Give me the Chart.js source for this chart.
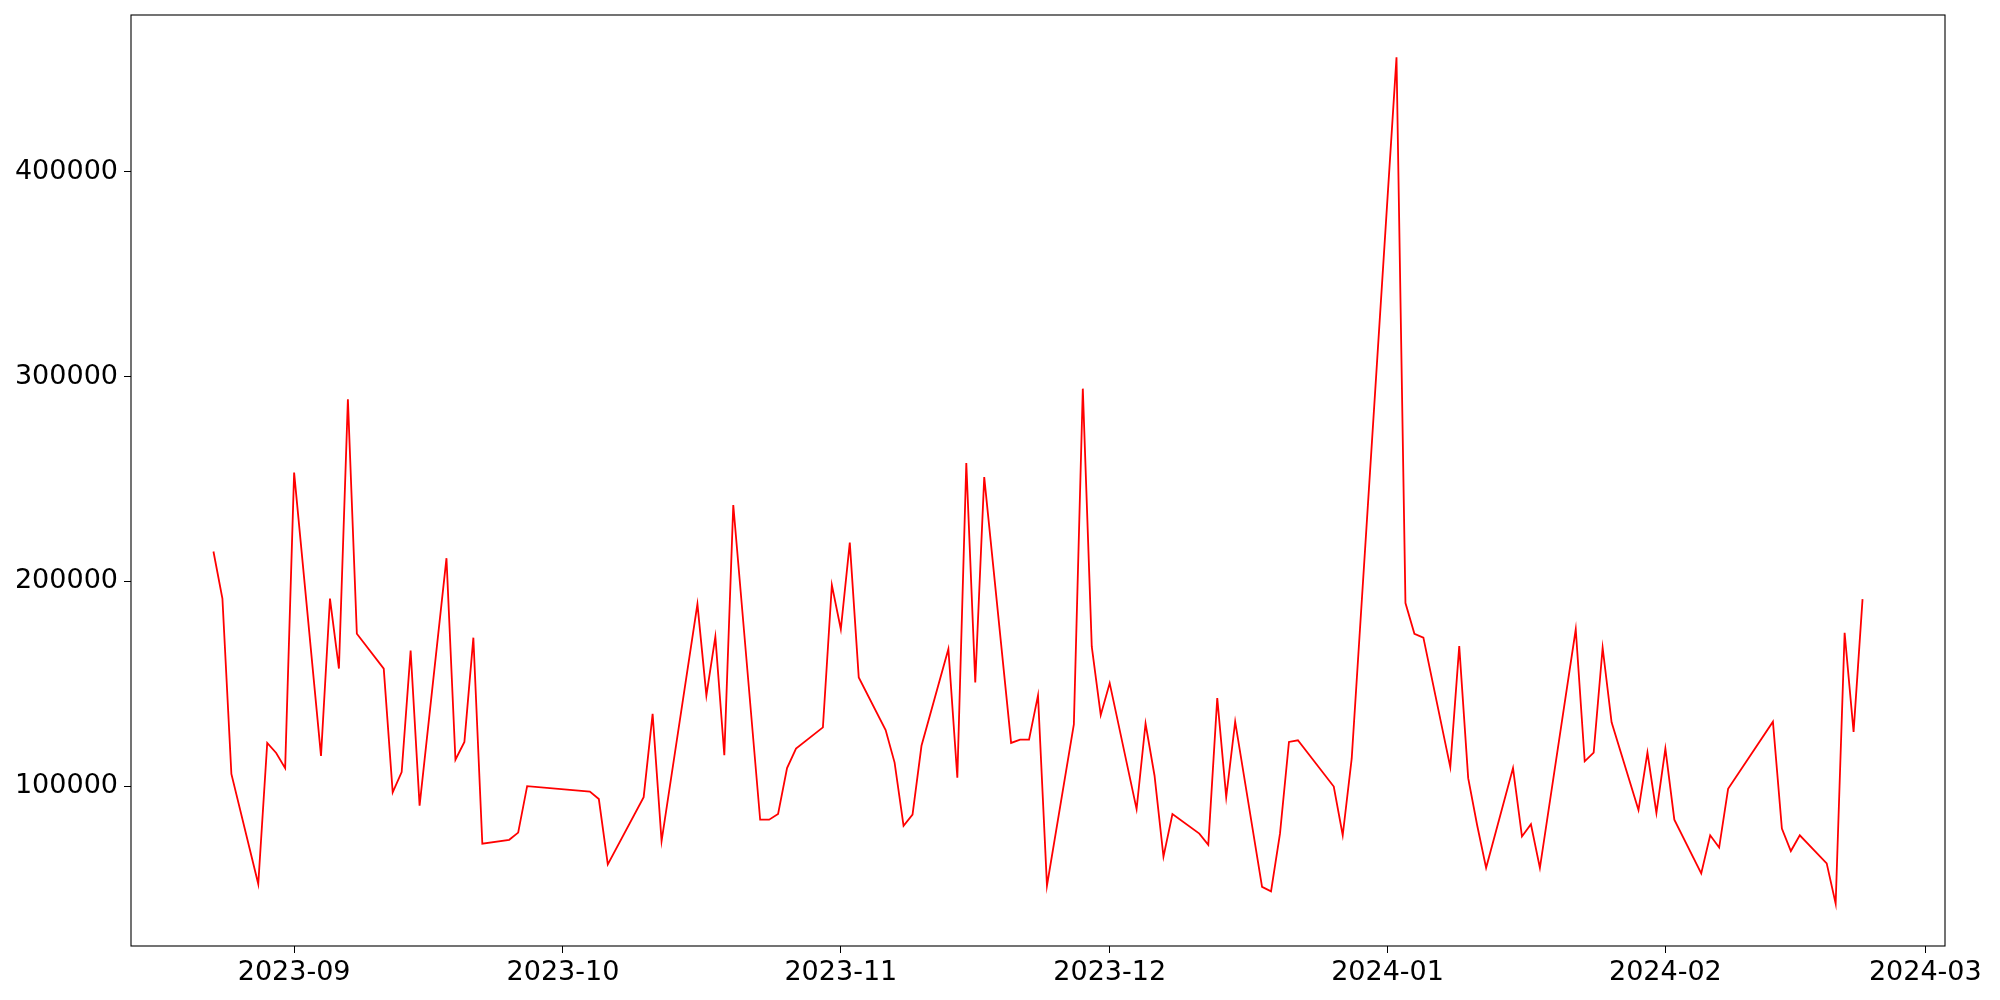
<!DOCTYPE html>
<html>
<head>
<meta charset="utf-8">
<script src="https://cdn.jsdelivr.net/npm/chart.js@4.4.1/dist/chart.umd.min.js"></script>
<style>
  html, body { margin: 0; padding: 0; background: #fff; }
  #chart { display: block; }
</style>
</head>
<body>
<canvas id="chart" width="2000" height="1000"></canvas>
<script>
// fechas (días hábiles) y valores
const dates = [
  '2023-08-23','2023-08-24','2023-08-25','2023-08-28','2023-08-29','2023-08-30','2023-08-31','2023-09-01',
  '2023-09-04','2023-09-05','2023-09-06','2023-09-07','2023-09-08','2023-09-11','2023-09-12','2023-09-13',
  '2023-09-14','2023-09-15','2023-09-18','2023-09-19','2023-09-20','2023-09-21','2023-09-22','2023-09-25',
  '2023-09-26','2023-09-27','2023-10-04','2023-10-05','2023-10-06','2023-10-10','2023-10-11','2023-10-12',
  '2023-10-16','2023-10-17','2023-10-18','2023-10-19','2023-10-20','2023-10-23','2023-10-24','2023-10-25',
  '2023-10-26','2023-10-27','2023-10-30','2023-10-31','2023-11-01','2023-11-02','2023-11-03','2023-11-06',
  '2023-11-07','2023-11-08','2023-11-09','2023-11-10','2023-11-13','2023-11-14','2023-11-15','2023-11-16',
  '2023-11-17','2023-11-20','2023-11-21','2023-11-22','2023-11-23','2023-11-24','2023-11-27','2023-11-28',
  '2023-11-29','2023-11-30','2023-12-01','2023-12-04','2023-12-05','2023-12-06','2023-12-07','2023-12-08',
  '2023-12-11','2023-12-12','2023-12-13','2023-12-14','2023-12-15','2023-12-18','2023-12-19','2023-12-20',
  '2023-12-21','2023-12-22','2023-12-26','2023-12-27','2023-12-28','2024-01-02','2024-01-03','2024-01-04',
  '2024-01-05','2024-01-08','2024-01-09','2024-01-10','2024-01-11','2024-01-12','2024-01-15','2024-01-16',
  '2024-01-17','2024-01-18','2024-01-22','2024-01-23','2024-01-24','2024-01-25','2024-01-26','2024-01-29',
  '2024-01-30','2024-01-31','2024-02-01','2024-02-02','2024-02-05','2024-02-06','2024-02-07','2024-02-08',
  '2024-02-13','2024-02-14','2024-02-15','2024-02-16','2024-02-19','2024-02-20','2024-02-21','2024-02-22',
  '2024-02-23'
];

const values = [
  214600, 191600, 106000, 52200, 121100, 116200, 108800, 253100,
  114800, 191600, 157400, 288900, 174400, 157400, 97000, 106900,
  166200, 90500, 211300, 112900, 121600, 172500, 71900, 73800,
  77300, 100000, 97300, 93700, 61800, 94600, 135300, 73200,
  188900, 144300, 173000, 115100, 237300, 83600, 83600, 86400,
  108800, 118300, 128700, 198200, 176600, 218900, 153100, 127400,
  111500, 80600, 86100, 119700, 167000, 104100, 257800, 150600,
  250900, 121100, 122700, 122700, 144300, 51400, 130100, 294100,
  168100, 134700, 150300, 88800, 130600, 105200, 65600, 86400,
  76800, 71300, 143000, 94600, 131500, 50800, 48600, 76800,
  121600, 122400, 99800, 76000, 113400, 455900, 189400, 174400,
  172500, 109300, 168400, 103900, 80900, 60100, 108800, 75400,
  81400, 60100, 176600, 112100, 116400, 167600, 131200, 88300,
  116400, 86900, 118300, 83600, 57400, 76000, 70000, 98700,
  131500, 79300, 68300, 76000, 62300, 42600, 174900, 126500,
  191300
];

// marcas de los ejes
const xTickLabels = ['2023-09', '2023-10', '2023-11', '2023-12', '2024-01', '2024-02', '2024-03'];
const yTicks = [100000, 200000, 300000, 400000];

const toMs = s => Date.parse(s + 'T00:00:00Z');
const points = dates.map((d, i) => ({ x: toMs(d), y: values[i] }));

// margen del 5% como en matplotlib
const xMinData = toMs(dates[0]);
const xMaxData = toMs(dates[dates.length - 1]);
const xPad = (xMaxData - xMinData) * 0.05;
const yMinData = Math.min(...values);
const yMaxData = Math.max(...values);
const yPad = (yMaxData - yMinData) * 0.05;

const tickFont = { family: 'DejaVu Sans', size: 27 };

// marco completo alrededor del área del gráfico
const framePlugin = {
    id: 'frame',
    afterDraw(chart) {
        const { ctx, chartArea: a } = chart;
        ctx.save();
        ctx.strokeStyle = '#000';
        ctx.lineWidth = 1.1;
        ctx.strokeRect(a.left, a.top, a.right - a.left, a.bottom - a.top);
        ctx.restore();
    }
};

new Chart(document.getElementById('chart').getContext('2d'), {
    type: 'line',
    data: {
        datasets: [{
            data: points,
            borderColor: '#ff0000',
            borderWidth: 1.8,
            pointRadius: 0,
            tension: 0,
            fill: false
        }]
    },
    options: {
        responsive: false,
        animation: false,
        layout: { padding: { top: 15, right: 55, left: 0, bottom: 0 } },
        plugins: {
            legend: { display: false },
            tooltip: { enabled: false }
        },
        scales: {
            x: {
                type: 'linear',
                min: xMinData - xPad,
                max: xMaxData + xPad,
                afterBuildTicks: scale => {
                    scale.ticks = xTickLabels.map(l => ({ value: toMs(l + '-01') }));
                },
                afterFit: scale => {
                    scale.height = 54;
                    scale.paddingLeft = 0;
                    scale.paddingRight = 0;
                },
                ticks: {
                    autoSkip: false,
                    maxRotation: 0,
                    padding: 4,
                    color: '#000',
                    font: tickFont,
                    callback: v => {
                        const d = new Date(v);
                        return d.getUTCFullYear() + '-' + String(d.getUTCMonth() + 1).padStart(2, '0');
                    }
                },
                grid: { drawOnChartArea: false, drawTicks: true, tickLength: 7, color: '#000', lineWidth: 1 },
                border: { display: false }
            },
            y: {
                type: 'linear',
                min: yMinData - yPad,
                max: yMaxData + yPad,
                afterBuildTicks: scale => {
                    scale.ticks = yTicks.map(v => ({ value: v }));
                },
                afterFit: scale => {
                    scale.width = 131;
                    scale.paddingTop = 0;
                    scale.paddingBottom = 0;
                },
                ticks: {
                    padding: 6,
                    color: '#000',
                    font: tickFont,
                    callback: v => String(v)
                },
                grid: { drawOnChartArea: false, drawTicks: true, tickLength: 7, color: '#000', lineWidth: 1 },
                border: { display: false }
            }
        }
    },
    plugins: [framePlugin]
});
</script>
</body>
</html>
